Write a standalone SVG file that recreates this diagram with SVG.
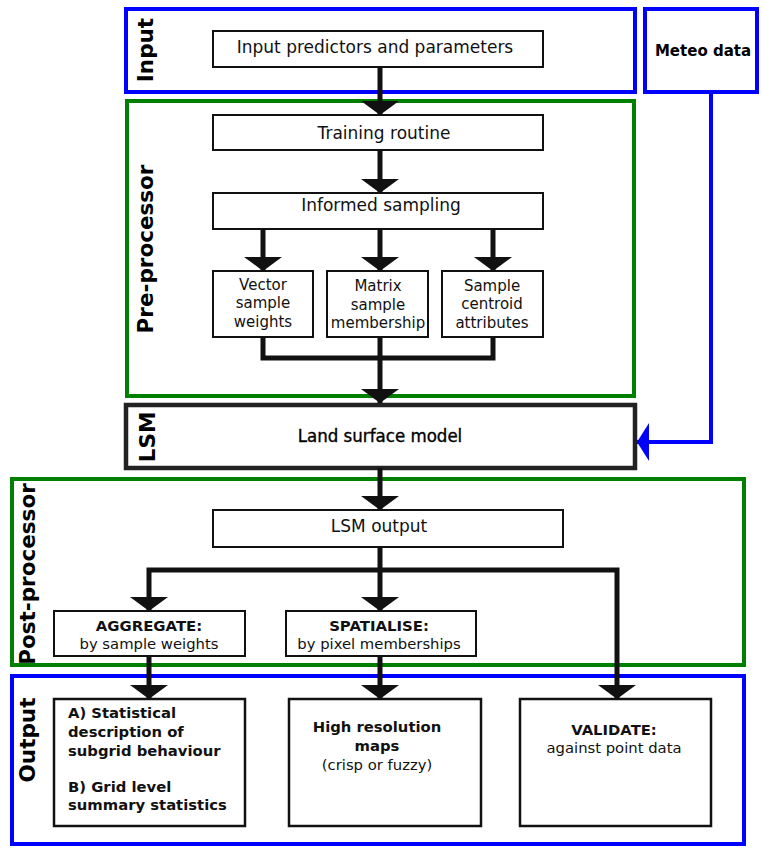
<svg xmlns="http://www.w3.org/2000/svg" width="763" height="849" viewBox="0 0 763 849">
<style>
.grp{fill:#fff;stroke-width:4}
.blue{stroke:#0000ff}
.green{stroke:#008000}
.dark{stroke:#222;stroke-width:4.5}
.box{fill:#fff;stroke:#111;stroke-width:2}
.obox{fill:#fff;stroke:#111;stroke-width:2.5}
.t{font-family:'DejaVu Sans',sans-serif;font-size:17px;fill:#111;text-anchor:middle}
.ts{font-family:'DejaVu Sans',sans-serif;font-size:15px;fill:#111;text-anchor:middle}
.tp{font-family:'DejaVu Sans',sans-serif;font-size:14.8px;fill:#111;text-anchor:middle}
.tpb{font-family:'DejaVu Sans',sans-serif;font-size:14.9px;font-weight:bold;fill:#111;text-anchor:middle}
.to{font-family:'DejaVu Sans',sans-serif;font-size:14.8px;fill:#111;text-anchor:middle}
.tob{font-family:'DejaVu Sans',sans-serif;font-size:14.8px;font-weight:bold;fill:#111;text-anchor:middle}
.lab{font-family:'DejaVu Sans',sans-serif;font-size:21.5px;font-weight:bold;fill:#000;text-anchor:middle}
.con{fill:none;stroke:#111;stroke-width:5}
</style>
<defs>
<marker id="ah" markerUnits="userSpaceOnUse" markerWidth="14" markerHeight="38" viewBox="0 0 14 38" refX="14" refY="19" orient="auto">
<path d="M0,0 L14,19 L0,38 z" fill="#111"/>
</marker>
<marker id="ahb" markerUnits="userSpaceOnUse" markerWidth="12" markerHeight="38" viewBox="0 0 12 38" refX="12" refY="19" orient="auto">
<path d="M0,0 L12,19 L0,38 z" fill="#0000ff"/>
</marker>
</defs>

<g id="group-input">
<rect class="grp blue" x="126" y="9" width="509" height="83"/>
<text class="lab" transform="translate(153,50) rotate(-90)">Input</text>
</g>
<g id="node-meteo">
<rect class="grp blue" x="645" y="9" width="112" height="83"/>
<text x="703" y="56" style="font-family:'DejaVu Sans',sans-serif;font-size:15px;font-weight:bold;fill:#000;text-anchor:middle">Meteo data</text>
</g>
<g id="group-pre">
<rect class="grp green" x="127" y="101" width="507" height="295"/>
<text class="lab" transform="translate(153,249) rotate(-90)">Pre-processor</text>
</g>
<g id="group-lsm">
<rect class="grp dark" x="126" y="405" width="509" height="63"/>
<text class="lab" transform="translate(155,437) rotate(-90)">LSM</text>
</g>
<g id="group-post">
<rect class="grp green" x="12" y="479" width="732" height="186"/>
<text class="lab" transform="translate(35,574) rotate(-90)">Post-processor</text>
</g>
<g id="group-output">
<rect class="grp blue" x="12" y="676" width="732" height="168"/>
<text class="lab" transform="translate(35,740) rotate(-90)">Output</text>
</g>

<g id="node-input-predictors">
<rect class="box" x="213" y="31" width="330" height="36"/>
<text class="t" x="375" y="53">Input predictors and parameters</text>
</g>
<g id="node-training">
<rect class="box" x="213" y="115" width="330" height="35"/>
<text class="t" x="384" y="139">Training routine</text>
</g>
<g id="node-informed">
<rect class="box" x="213" y="193" width="330" height="36"/>
<text class="t" x="381" y="211">Informed sampling</text>
</g>
<g id="node-vector">
<rect class="box" x="213" y="271" width="100" height="66"/>
<text class="ts" x="263" y="290">Vector</text>
<text class="ts" x="263" y="308">sample</text>
<text class="ts" x="263" y="327">weights</text>
</g>
<g id="node-matrix">
<rect class="box" x="327" y="271" width="101" height="66"/>
<text class="ts" x="378" y="291">Matrix</text>
<text class="ts" x="378" y="310">sample</text>
<text class="ts" x="378" y="328">membership</text>
</g>
<g id="node-sample">
<rect class="box" x="442" y="271" width="101" height="66"/>
<text class="ts" x="492" y="291">Sample</text>
<text class="ts" x="492" y="309">centroid</text>
<text class="ts" x="492" y="328">attributes</text>
</g>
<g id="node-lsm">
<text x="380" y="442" style="font-family:'DejaVu Sans Condensed','DejaVu Sans',sans-serif;font-size:18.5px;fill:#000;stroke:#000;stroke-width:0.35;text-anchor:middle">Land surface model</text>
</g>
<g id="node-lsm-output">
<rect class="box" x="213" y="510" width="350" height="37"/>
<text class="t" x="379" y="532">LSM output</text>
</g>
<g id="node-aggregate">
<rect class="box" x="54" y="611" width="191" height="45"/>
<text class="tpb" x="149" y="631">AGGREGATE:</text>
<text class="tp" x="149" y="649">by sample weights</text>
</g>
<g id="node-spatialise">
<rect class="box" x="286" y="611" width="190" height="45"/>
<text class="tpb" x="379" y="631">SPATIALISE:</text>
<text class="tp" x="379" y="649">by pixel memberships</text>
</g>
<g id="node-stats">
<rect class="obox" x="54" y="699" width="191" height="127"/>
<text class="tob" x="68" y="718" style="text-anchor:start">A) Statistical</text>
<text class="tob" x="68" y="737" style="text-anchor:start">description of</text>
<text class="tob" x="68" y="756" style="text-anchor:start">subgrid behaviour</text>
<text class="tob" x="68" y="792" style="text-anchor:start">B) Grid level</text>
<text class="tob" x="68" y="810" style="text-anchor:start">summary statistics</text>
</g>
<g id="node-maps">
<rect class="obox" x="289" y="699" width="192" height="127"/>
<text class="tob" x="377" y="732">High resolution</text>
<text class="tob" x="377" y="751">maps</text>
<text class="to" x="377" y="770">(crisp or fuzzy)</text>
</g>
<g id="node-validate">
<rect class="obox" x="520" y="699" width="191" height="127"/>
<text class="tob" x="614" y="735">VALIDATE:</text>
<text class="to" x="614" y="753">against point data</text>
</g>

<g id="connectors">
<path class="con" d="M380,67 V115" marker-end="url(#ah)"/>
<path class="con" d="M380,150 V193" marker-end="url(#ah)"/>
<path class="con" d="M263,229 V271" marker-end="url(#ah)"/>
<path class="con" d="M380,229 V271" marker-end="url(#ah)"/>
<path class="con" d="M493,229 V271" marker-end="url(#ah)"/>
<path class="con" d="M263,337 V358 H493 V337"/>
<path class="con" d="M380,337 V403" marker-end="url(#ah)"/>
<path class="con" d="M380,468 V510" marker-end="url(#ah)"/>
<path class="con" d="M380,547 V611" marker-end="url(#ah)"/>
<path class="con" d="M380,570 H149 V611" marker-end="url(#ah)"/>
<path class="con" d="M380,570 H617 V699" marker-end="url(#ah)"/>
<path class="con" d="M149,656 V699" marker-end="url(#ah)"/>
<path class="con" d="M380,656 V699" marker-end="url(#ah)"/>
<path d="M711,92 V442 H637" fill="none" stroke="#0000ff" stroke-width="4" marker-end="url(#ahb)"/>
</g>
</svg>
